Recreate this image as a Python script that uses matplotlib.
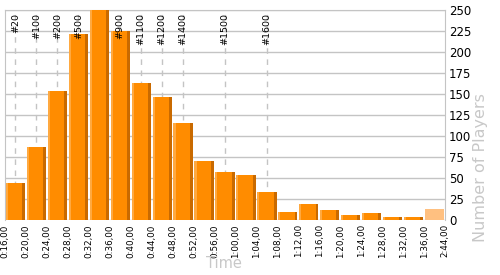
import numpy as np
import matplotlib
matplotlib.use('Agg')
import matplotlib.pyplot as plt

# histogram of finishing times
edge_labels = ['0:16,00', '0:20,00', '0:24,00', '0:28,00', '0:32,00', '0:36,00',
               '0:40,00', '0:44,00', '0:48,00', '0:52,00', '0:56,00', '1:00,00',
               '1:04,00', '1:08,00', '1:12,00', '1:16,00', '1:20,00', '1:24,00',
               '1:28,00', '1:32,00', '1:36,00', '2:44,00']
counts = [44, 87, 154, 221, 250, 225, 163, 146, 115, 70, 57, 54,
          33, 10, 19, 12, 6, 8, 4, 3]
last_count = 13  # 1:36 - 2:44 bucket, drawn lighter

# rank markers: label and the bin they fall into
rank_labels = ['#20', '#100', '#200', '#500', '#900', '#1100', '#1200', '#1400', '#1500', '#1600']
rank_bins = [0, 1, 2, 3, 5, 6, 7, 8, 10, 12]

grid_col = '#c4c4c4'

fig = plt.figure(figsize=(5, 2.75), dpi=100)
ax = fig.add_axes([0.01, 0.2, 0.88, 0.7636])

x = np.arange(len(counts))
w = 0.92
left = x + 0.04
# main body, light left edge, dark right edge
ax.bar(left, counts, width=w, align='edge', color='#ff8c00', zorder=3)
ax.bar(left, counts, width=0.1, align='edge', color='#ffa940', zorder=4)
ax.bar(left + w - 0.14, counts, width=0.14, align='edge', color='#c96a00', zorder=4)
ax.bar(len(counts) + 0.04, last_count, width=w, align='edge', color='#ffc080', zorder=3)

for lab, b in zip(rank_labels, rank_bins):
    ax.axvline(b + 0.5, color=grid_col, ls=(0, (4, 4)), lw=1, zorder=2)
    ax.text(b + 0.5, 246.5, lab, rotation=90, ha='center', va='top',
            fontsize=6.8, color='black', zorder=5)

ax.set_xlim(0, len(edge_labels) - 1)
ax.set_ylim(0, 250)
ax.set_yticks(np.arange(0, 251, 25))
ax.yaxis.tick_right()
ax.set_xticks(np.arange(len(edge_labels)))
ax.set_xticklabels(edge_labels, rotation=90, fontsize=6.3)
ax.grid(True, axis='y', color=grid_col, lw=1, zorder=1)
ax.tick_params(axis='x', length=0, pad=3)
ax.tick_params(axis='y', length=0, pad=3, labelsize=8.5)
for s in ax.spines.values():
    s.set_color(grid_col)
ax.spines['bottom'].set_visible(False)

fig.text(0.448, 0.043, 'Time', color='#c8c8c8', fontsize=10.5, ha='center', va='center')
fig.text(0.962, 0.39, 'Number of Players', color='#c8c8c8', fontsize=11.5,
         rotation=90, ha='center', va='center')

fig.savefig('out.png', dpi=100)
